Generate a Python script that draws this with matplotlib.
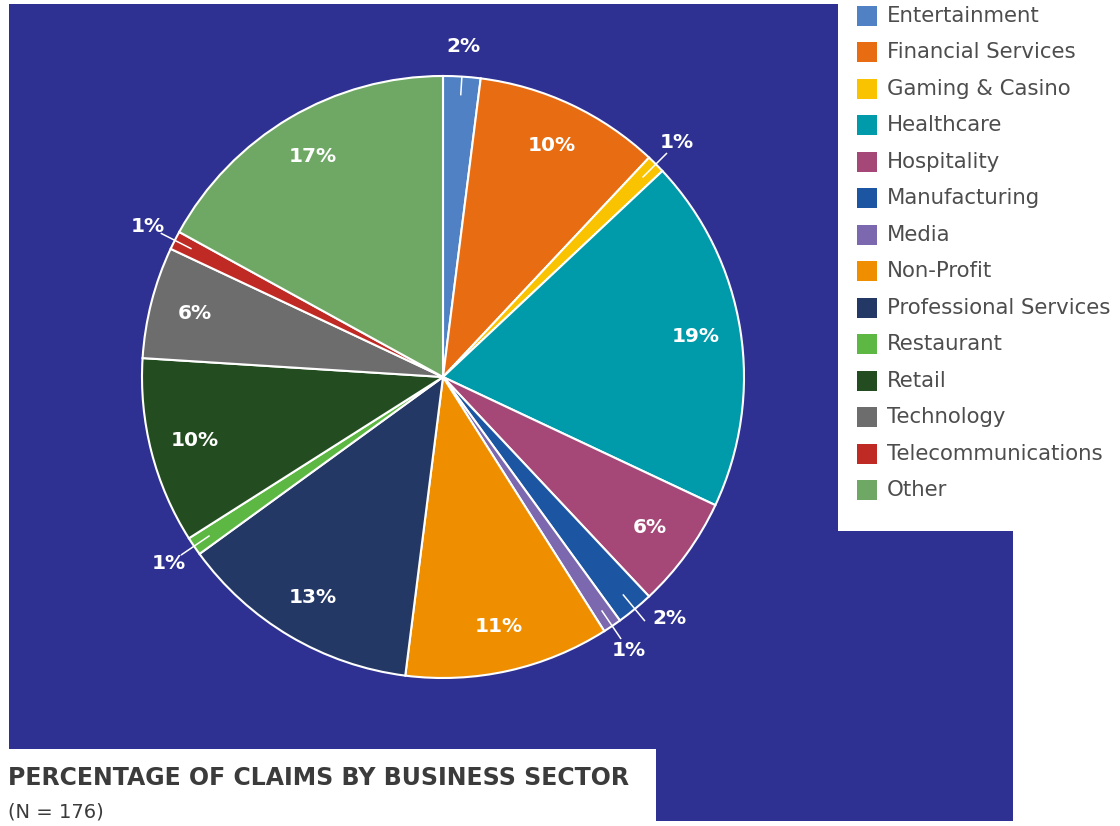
import numpy as np
import matplotlib.pyplot as plt
from matplotlib.patches import Polygon, Rectangle

sectors = ["Entertainment", "Financial Services", "Gaming & Casino", "Healthcare",
           "Hospitality", "Manufacturing", "Media", "Non-Profit",
           "Professional Services", "Restaurant", "Retail", "Technology",
           "Telecommunications", "Other"]
shares = [2, 10, 1, 19, 6, 2, 1, 11, 13, 1, 10, 6, 1, 17]
colors = ["#4F81C4", "#E86C11", "#F9C300", "#009BAA", "#A54877", "#1C56A3",
          "#7B68AE", "#EF8F00", "#243866", "#5DB843", "#234D20", "#6D6D6D",
          "#BF2A25", "#6FA865"]

title = "PERCENTAGE OF CLAIMS BY BUSINESS SECTOR"
subtitle = "(N = 176)"

W, H = 1120, 826
navy = "#2E3192"

fig = plt.figure(figsize=(W / 100, H / 100), dpi=100)
fig.patch.set_facecolor("white")

# background layer in pixel coordinates
bg = fig.add_axes([0, 0, 1, 1])
bg.set_xlim(0, W)
bg.set_ylim(H, 0)
bg.axis("off")
bg.add_patch(Polygon([(9, 4), (838, 4), (838, 531), (1013, 531), (1013, 821),
                      (656, 821), (656, 749), (9, 749)], closed=True,
                     facecolor=navy, lw=0))

# title
bg.text(8, 778, title, va="center", ha="left", fontsize=17,
        fontweight="bold", color="#3b3b3b")
bg.text(8, 812, subtitle, va="center", ha="left", fontsize=14, color="#3b3b3b")

# legend
for i, (name, c) in enumerate(zip(sectors, colors)):
    y = 16 + 36.46 * i
    bg.add_patch(Rectangle((857, y - 10), 20, 20, facecolor=c, lw=0))
    bg.text(887, y, name, va="center", ha="left", fontsize=15.3, color="#4d4d4d")

# pie
cx, cy, r = 443, 377, 301
ax = fig.add_axes([(cx - r) / W, 1 - (cy + r) / H, 2 * r / W, 2 * r / H])
wedges, _ = ax.pie(shares, colors=colors, startangle=90, counterclock=False,
                   radius=1, wedgeprops=dict(edgecolor="white", linewidth=1.5))
ax.set_xlim(-1, 1)
ax.set_ylim(-1, 1)
ax.axis("off")

nudge = {"Manufacturing": (15, 14)}

for w, name, v in zip(wedges, sectors, shares):
    ang = np.deg2rad((w.theta1 + w.theta2) / 2)
    ca, sa = np.cos(ang), np.sin(ang)
    label = f"{v}%"
    if v >= 5:
        ax.text(0.85 * ca, 0.85 * sa, label, ha="center", va="center",
                fontsize=14.5, fontweight="bold", color="white")
    else:
        ax.plot([0.94 * ca, 1.05 * ca], [0.94 * sa, 1.05 * sa],
                color="white", lw=1.1)
        dx, dy = nudge.get(name, (0, 0))
        ax.annotate(label, xy=(1.1 * ca, 1.1 * sa), xytext=(dx, dy),
                    textcoords="offset pixels", ha="center", va="center",
                    fontsize=14.5, fontweight="bold", color="white",
                    annotation_clip=False)

fig.savefig("out.png", dpi=100, facecolor="white")
